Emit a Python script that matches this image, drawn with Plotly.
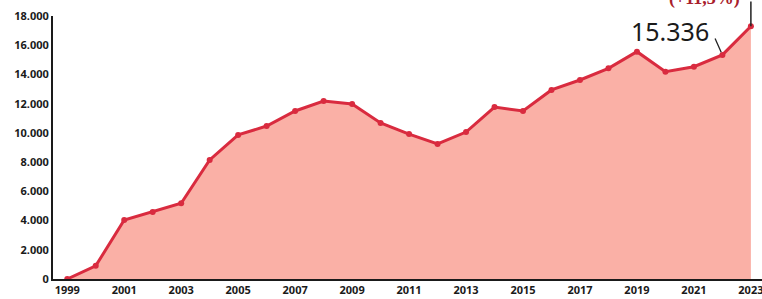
import plotly.graph_objects as go

years = list(range(1999, 2024))
values = [0, 900, 4040, 4590, 5180, 8150, 9860, 10470, 11500, 12180, 11980,
          10680, 9920, 9240, 10060, 11770, 11500, 12940, 13620, 14420, 15560,
          14190, 14530, 15336, 17300]
tick_years = list(range(1999, 2024, 2))
label_2022 = "15.336"
label_change = "(+11,3%)"

line_col = "#D92B3F"
fill_col = "#FAB0A6"

fig = go.Figure()
fig.add_trace(go.Scatter(
    x=years, y=values, mode="lines+markers", fill="tozeroy",
    fillcolor=fill_col, line=dict(color=line_col, width=3),
    marker=dict(color=line_col, size=6), hoverinfo="skip"))

fig.add_annotation(x=years[-2], y=values[-2], text="", showarrow=True,
                   arrowhead=0, arrowwidth=1.3, arrowcolor="#222",
                   ax=-8, ay=-18, standoff=3)
fig.add_annotation(x=years[-2], y=values[-2], text=label_2022, showarrow=False,
                   xshift=-52, yshift=24,
                   font=dict(family="Noto Sans", size=25, color="#1a1a1a"))
fig.add_annotation(x=years[-1], y=values[-1], text="", showarrow=True,
                   arrowhead=0, arrowwidth=1.5, arrowcolor="#222",
                   ax=0, ay=-60, standoff=0)
fig.add_annotation(xref="paper", yref="paper", x=0.9196, y=1, yanchor="bottom",
                   xanchor="center", yshift=5, text=label_change, showarrow=False,
                   font=dict(family="Liberation Serif", size=18, color="#A8202C", weight="bold"))

fig.update_layout(
    width=762, height=299, margin=dict(l=53, r=0, t=16, b=20),
    paper_bgcolor="white", plot_bgcolor="white", showlegend=False,
    separators=",.",
    xaxis=dict(range=[1998.5, 2023.39], tickvals=tick_years,
               ticktext=[str(y) for y in tick_years], showgrid=False,
               zeroline=False, showline=True, linecolor="#1a1a1a", linewidth=2,
               ticks="", ticklabeloverflow="allow",
               tickfont=dict(family="Noto Sans", size=11, color="#1a1a1a", weight="bold")),
    yaxis=dict(range=[0, 18000], tickvals=list(range(0, 18001, 2000)),
               tickformat=",d", showgrid=False, zeroline=False, showline=True,
               linecolor="#1a1a1a", linewidth=2, ticks="",
               tickfont=dict(family="Noto Sans", size=11, color="#1a1a1a", weight="bold")),
)
fig.write_html("out.html", config={"displayModeBar": False},
               post_script="document.body.style.margin='0';document.body.style.overflow='hidden';")
